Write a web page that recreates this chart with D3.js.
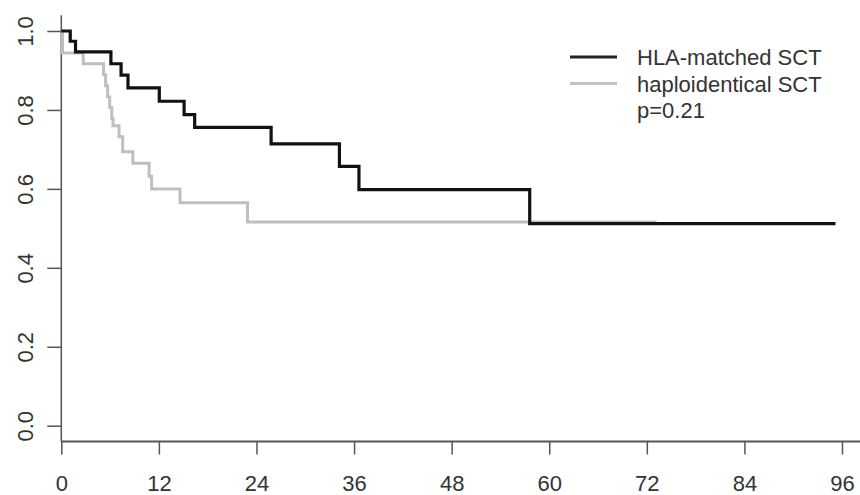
<!DOCTYPE html>
<html>
<head>
<meta charset="utf-8">
<script src="https://cdn.jsdelivr.net/npm/d3@7"></script>
<style>
  html, body { margin: 0; padding: 0; background: #fff; }
  svg { display: block; font-family: "Liberation Sans", Arial, sans-serif; }
</style>
</head>
<body>
<svg class="km"></svg>
<script>
// survival curves (months, probability)
const hlaTime = [0, 1.1, 1.75, 6.1, 7.35, 8.2, 12.05, 15.1, 16.4, 25.8, 34.2, 36.6, 57.6, 95.2];
const hlaSurv = [1.0, 0.974, 0.947, 0.917, 0.888, 0.856, 0.822, 0.788, 0.756, 0.714, 0.657, 0.598, 0.512, 0.512];

const haploTime = [0, 0.15, 2.7, 5.2, 5.45, 5.7, 5.95, 6.2, 6.35, 7.1, 7.55, 8.8, 10.8, 11.1, 14.6, 22.9, 73.2];
const haploSurv = [1.0, 0.944, 0.917, 0.889, 0.861, 0.833, 0.806, 0.778, 0.760, 0.732, 0.694, 0.665, 0.632, 0.600, 0.565, 0.516, 0.516];

const xTicks = [0, 12, 24, 36, 48, 60, 72, 84, 96];
const yTicks = [0, 0.2, 0.4, 0.6, 0.8, 1.0];

const legendLabels = ['HLA-matched SCT', 'haploidentical SCT', 'p=0.21'];

function graph(){
    const svg = d3.select('.km')
        .attr('width', 860)
        .attr('height', 495)
    const width = +svg.attr('width');

    //scale
    const xScale = d3.scaleLinear().domain([0, 96]).range([61.3, 842])
    const yScale = d3.scaleLinear().domain([0, 1]).range([425.7, 31])

    const axisColor = '#555';
    const textColor = '#333';

    // L-shaped box (R bty="l")
    svg.append('line')
       .attr('x1', xScale(0)).attr('x2', xScale(0))
       .attr('y1', yScale(1.04)).attr('y2', yScale(-0.04))
       .attr('stroke', axisColor).attr('stroke-width', 1.5)
    svg.append('line')
       .attr('x1', xScale(0)).attr('x2', width)
       .attr('y1', yScale(-0.04)).attr('y2', yScale(-0.04))
       .attr('stroke', axisColor).attr('stroke-width', 2.2)

    //axes
    const xAxisG = svg.append('g')
        .attr('transform', `translate(0, ${yScale(-0.04)})`)
        .call(d3.axisBottom(xScale).tickValues(xTicks).tickSize(13).tickPadding(21).tickFormat(d3.format('d')))
    xAxisG.select('.domain').remove()

    const yAxisG = svg.append('g')
        .attr('transform', `translate(${xScale(0)}, 0)`)
        .call(d3.axisLeft(yScale).tickValues(yTicks).tickSize(14).tickFormat(d3.format('.1f')))
    yAxisG.select('.domain').remove()

    svg.selectAll('.tick line').attr('stroke', axisColor).attr('stroke-width', 1.5)
    svg.selectAll('.tick text')
       .attr('fill', textColor)
       .style('font-size', '22px')
       .style('font-family', '"Liberation Sans", Arial, sans-serif')

    // rotated y labels like R's las=0
    yAxisG.selectAll('.tick text')
       .attr('x', null).attr('dy', null)
       .attr('text-anchor', 'middle')
       .attr('transform', 'translate(-28, 0) rotate(-90)')

    //curves
    const line = d3.line()
        .x(d => xScale(d[0]))
        .y(d => yScale(d[1]))
        .curve(d3.curveStepAfter)

    const haplo = haploTime.map((t, i) => [t, haploSurv[i]])
    const hla = hlaTime.map((t, i) => [t, hlaSurv[i]])

    svg.append('path')
       .datum(haplo)
       .attr('d', line)
       .attr('fill', 'none')
       .attr('stroke', '#bfbfbf')
       .attr('stroke-width', 3)

    svg.append('path')
       .datum(hla)
       .attr('d', line)
       .attr('fill', 'none')
       .attr('stroke', '#111')
       .attr('stroke-width', 3.2)

    //legend
    const legend = svg.append('g')
    const legendColors = ['#222', '#c4c4c4', null]
    legendLabels.forEach((label, i) => {
        const yBase = 65 + i * 26.5;
        if (legendColors[i]) {
            legend.append('line')
                .attr('x1', 570).attr('x2', 617)
                .attr('y1', yBase - 8).attr('y2', yBase - 8)
                .attr('stroke', legendColors[i])
                .attr('stroke-width', 3)
        }
        legend.append('text')
            .attr('x', 637)
            .attr('y', yBase)
            .attr('fill', textColor)
            .style('font-size', '22px')
            .text(label)
    })
}
graph()
</script>
</body>
</html>
